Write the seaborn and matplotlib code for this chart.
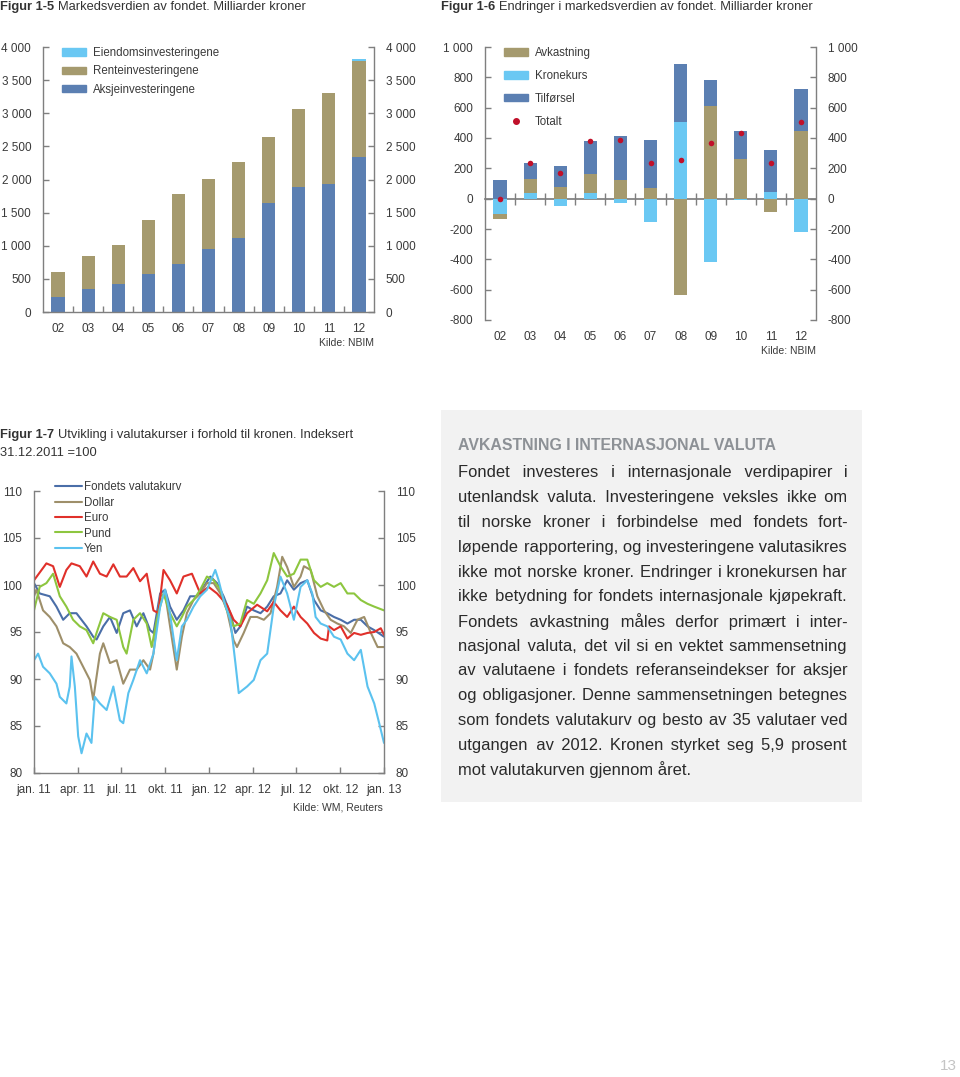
import numpy as np
import pandas as pd
import matplotlib
matplotlib.use('Agg')
import matplotlib.pyplot as plt
import seaborn as sns
from matplotlib import font_manager as fm
from matplotlib.patches import Patch, Rectangle
from matplotlib.lines import Line2D

# ---- Figur 1-5: markedsverdi (mrd kr)
years = ['02', '03', '04', '05', '06', '07', '08', '09', '10', '11', '12']
aksje = [226, 351, 417, 577, 718, 954, 1119, 1641, 1887, 1937, 2334]
rente = [376, 487, 592, 818, 1064, 1059, 1149, 994, 1184, 1370, 1455]
eiendom = [0, 0, 0, 0, 0, 0, 0, 0, 0, 0, 25]

# ---- Figur 1-6: endringer i markedsverdi (mrd kr)
avkastning = [-31, 90, 79, 125, 121, 73, -633, 609, 262, -88, 446]
kronekurs = [-101, 40, -48, 35, -29, -156, 503, -418, -7, 46, -220]
tilforsel = [123, 105, 139, 220, 290, 314, 385, 171, 182, 273, 275]
totalt = [-4, 237, 171, 382, 385, 237, 257, 365, 435, 235, 503]

# ---- Figur 1-7: valutakurser, maaneder etter 1.1.2011, indeks
kurv_m = [0, 0.39, 1.08, 1.54, 2.0, 2.45, 2.91, 3.6, 4.06, 4.29, 4.75, 5.21, 5.67, 6.12, 6.58, 7.04,
          7.5, 7.96, 8.19, 8.65, 8.99, 9.33, 9.79, 10.25, 10.71, 11.17, 11.63, 12.09, 12.55, 13.0,
          13.46, 13.81, 14.15, 14.61, 15.07, 15.53, 15.99, 16.44, 16.9, 17.36, 17.82, 18.28, 18.74,
          19.2, 19.66, 20.11, 20.57, 21.03, 21.49, 21.95, 22.41, 22.87, 23.33, 24.0]
kurv_v = [100.2, 99.1, 98.8, 97.7, 96.3, 97.0, 97.0, 95.6, 94.5, 94.2, 95.6, 96.6, 94.9, 97.0, 97.3,
          95.6, 97.0, 95.2, 94.9, 99.1, 99.5, 97.7, 96.3, 97.3, 98.8, 98.8, 99.8, 100.9, 100.2, 98.8,
          97.0, 94.9, 95.6, 97.7, 97.3, 97.0, 97.7, 98.8, 99.1, 100.5, 99.5, 100.2, 100.5, 98.4, 97.3,
          97.0, 96.6, 96.3, 95.9, 96.3, 96.3, 95.6, 95.2, 94.5]

dollar_m = [0, 0.16, 0.62, 1.08, 1.54, 2.0, 2.45, 2.91, 3.37, 3.83, 4.06, 4.52, 4.75, 5.21, 5.67,
            6.12, 6.58, 7.04, 7.5, 7.96, 8.19, 8.65, 8.99, 9.33, 9.79, 10.14, 10.48, 10.94, 11.4,
            11.86, 12.32, 12.78, 13.23, 13.69, 13.92, 14.38, 14.84, 15.3, 15.76, 16.22, 16.67,
            17.02, 17.36, 17.82, 18.28, 18.51, 18.97, 19.43, 19.89, 20.34, 20.8, 21.26, 21.72,
            22.18, 22.64, 23.1, 23.56, 24.0]
dollar_v = [98.8, 99.5, 97.3, 96.6, 95.6, 93.8, 93.4, 92.7, 91.3, 89.9, 87.8, 92.7, 93.8, 91.7, 92.0,
            89.5, 91.0, 91.0, 92.0, 91.0, 92.7, 98.8, 99.1, 95.6, 91.0, 94.5, 97.0, 98.4, 99.1, 100.2,
            100.2, 99.1, 97.3, 94.1, 93.4, 94.9, 96.6, 96.6, 96.3, 97.0, 99.8, 103.0, 101.9, 99.8,
            100.9, 102.0, 101.6, 98.8, 97.3, 96.3, 95.9, 95.6, 94.9, 96.3, 96.6, 94.9, 93.4, 93.4]

euro_m = [0, 0.85, 1.31, 1.77, 2.22, 2.57, 3.14, 3.6, 4.06, 4.52, 4.98, 5.44, 5.89, 6.35, 6.81, 7.27,
          7.73, 8.19, 8.53, 8.88, 9.33, 9.79, 10.25, 10.83, 11.4, 11.97, 12.55, 13.23, 13.69, 14.15,
          14.61, 15.3, 15.99, 16.44, 16.9, 17.36, 17.82, 18.28, 18.74, 19.2, 19.66, 20.11, 20.23,
          20.57, 21.03, 21.49, 21.95, 22.41, 22.87, 23.33, 23.78, 24.0]
euro_v = [100.5, 102.3, 102.0, 99.8, 101.6, 102.3, 102.0, 100.9, 102.5, 101.2, 100.9, 102.2, 100.9,
          100.9, 101.8, 100.4, 101.2, 97.3, 97.0, 101.6, 100.5, 99.1, 100.9, 101.2, 99.1, 99.8, 99.1,
          97.9, 96.3, 95.6, 97.0, 97.9, 97.2, 98.2, 97.3, 96.6, 97.7, 96.6, 95.9, 94.9, 94.3, 94.1,
          95.6, 95.2, 95.6, 94.3, 94.9, 94.7, 94.9, 95.0, 95.4, 94.7]

pund_m = [0, 0.39, 0.85, 1.31, 1.77, 2.22, 2.68, 3.14, 3.6, 4.06, 4.29, 4.75, 5.21, 5.67, 6.12, 6.35,
          6.81, 7.27, 7.73, 8.07, 8.42, 8.88, 9.33, 9.79, 10.14, 10.48, 10.94, 11.4, 11.86, 12.32,
          12.78, 13.23, 13.69, 14.15, 14.61, 15.07, 15.53, 15.99, 16.44, 16.9, 17.36, 17.82, 18.28,
          18.74, 19.2, 19.66, 20.11, 20.57, 21.03, 21.49, 21.95, 22.41, 22.87, 23.33, 24.0]
pund_v = [97.3, 99.8, 100.2, 101.2, 98.8, 97.7, 96.3, 95.6, 95.2, 93.8, 94.9, 97.0, 96.6, 96.3, 93.4,
          92.7, 96.3, 97.0, 95.9, 93.4, 96.3, 99.1, 97.0, 95.6, 96.6, 97.7, 98.4, 99.5, 100.9, 100.5,
          99.5, 97.3, 95.6, 95.9, 98.4, 98.0, 99.1, 100.5, 103.4, 102.0, 100.9, 101.2, 102.7, 102.7,
          100.5, 99.8, 100.2, 99.8, 100.2, 99.1, 99.1, 98.4, 98.0, 97.7, 97.3]

yen_m = [0, 0.28, 0.62, 1.08, 1.54, 1.77, 2.22, 2.45, 2.57, 2.8, 3.03, 3.26, 3.6, 3.94, 4.17, 4.52,
         4.98, 5.44, 5.89, 6.12, 6.47, 6.81, 7.27, 7.73, 8.19, 8.65, 8.99, 9.33, 9.79, 10.14, 10.48,
         10.94, 11.4, 11.86, 12.43, 12.66, 13.0, 13.46, 13.81, 14.04, 14.61, 15.07, 15.53, 15.99,
         16.44, 16.9, 17.36, 17.82, 18.28, 18.74, 19.08, 19.31, 19.66, 20.11, 20.57, 21.03, 21.49,
         21.95, 22.41, 22.87, 23.33, 23.67, 24.0]
yen_v = [92.0, 92.7, 91.3, 90.6, 89.5, 88.1, 87.4, 89.2, 92.4, 89.2, 83.9, 82.1, 84.2, 83.2, 88.1,
         87.4, 86.7, 89.2, 85.6, 85.3, 88.5, 89.9, 92.0, 90.6, 92.7, 97.7, 99.5, 96.9, 92.0, 95.6,
         96.3, 97.7, 98.8, 99.5, 101.6, 100.5, 98.4, 96.3, 91.7, 88.5, 89.2, 89.9, 92.0, 92.7, 97.7,
         100.9, 99.1, 96.3, 99.8, 100.5, 99.1, 96.6, 95.9, 95.6, 94.5, 94.2, 92.7, 92.0, 93.1, 89.2,
         87.4, 85.3, 83.2]

month_ticks = [0, 3, 6, 9, 12, 15, 18, 21, 24]
month_labels = ['jan. 11', 'apr. 11', 'jul. 11', 'okt. 11', 'jan. 12', 'apr. 12', 'jul. 12',
                'okt. 12', 'jan. 13']

boks_tittel = 'AVKASTNING I INTERNASJONAL VALUTA'
boks_linjer = [
    'Fondet investeres i internasjonale verdipapirer i',
    'utenlandsk valuta. Investeringene veksles ikke om',
    'til norske kroner i forbindelse med fondets fort-',
    'løpende rapportering, og investeringene valutasikres',
    'ikke mot norske kroner. Endringer i kronekursen har',
    'ikke betydning for fondets internasjonale kjøpekraft.',
    'Fondets avkastning måles derfor primært i inter-',
    'nasjonal valuta, det vil si en vektet sammensetning',
    'av valutaene i fondets referanseindekser for aksjer',
    'og obligasjoner. Denne sammensetningen betegnes',
    'som fondets valutakurv og besto av 35 valutaer ved',
    'utgangen av 2012. Kronen styrket seg 5,9 prosent',
    'mot valutakurven gjennom året.',
]

# farger
BLA = '#5b7fb2'
KHAKI = '#a59a6e'
LYSBLA = '#6ac8f3'
ROD = '#c0102a'
GRA = '#7f7f7f'
TXT = '#3a3a3a'

sns.set_theme(style='white')
names = {f.name for f in fm.fontManager.ttflist}
base_font = 'Liberation Sans' if 'Liberation Sans' in names else 'DejaVu Sans'
narrow_font = 'Liberation Sans Narrow' if 'Liberation Sans Narrow' in names else base_font
plt.rcParams['font.family'] = [base_font, 'DejaVu Sans']
plt.rcParams['text.color'] = TXT
plt.rcParams['axes.edgecolor'] = GRA
plt.rcParams['xtick.color'] = GRA
plt.rcParams['ytick.color'] = GRA
plt.rcParams['xtick.labelcolor'] = TXT
plt.rcParams['ytick.labelcolor'] = TXT

W, H = 960, 1077
fig = plt.figure(figsize=(W / 100, H / 100), dpi=100)
fx = lambda px: px / W
fy = lambda py: 1 - py / H


def thousands(v, pos=None):
    return f'{v:,.0f}'.replace(',', ' ')


def style_axes(ax, lab=8.5):
    for s in ['left', 'right', 'bottom']:
        ax.spines[s].set_color(GRA)
        ax.spines[s].set_linewidth(1.0)
    ax.spines['top'].set_visible(False)
    ax.tick_params(axis='y', which='both', direction='in', left=True, right=True,
                   labelleft=True, labelright=True, length=4, width=1, pad=8.5, labelsize=lab)
    ax.tick_params(axis='x', labelsize=lab)


def stack(ax, x, series, colors, width):
    pos = np.zeros(len(x))
    neg = np.zeros(len(x))
    for vals, c in zip(series, colors):
        vals = np.asarray(vals, float)
        base = np.where(vals >= 0, pos, neg)
        ax.bar(x, vals, bottom=base, width=width, color=c, linewidth=0)
        pos += np.clip(vals, 0, None)
        neg += np.clip(vals, None, 0)


def title(x, y, fig_no, rest):
    t = fig.text(fx(x), fy(y), fig_no + ' ', fontsize=9.3, va='center', ha='left',
                 fontweight='semibold', color='#333333', family=[narrow_font, 'DejaVu Sans'])
    plt.annotate(rest, xy=(1, 0), xycoords=t, va='bottom', ha='left', fontsize=9.3,
                 color='#333333', family=[narrow_font, 'DejaVu Sans'],
                 annotation_clip=False)


xpos = np.arange(len(years))

# ---------------- Figur 1-5
ax1 = fig.add_axes([fx(43), fy(312), fx(331), 265 / H])
stack(ax1, xpos, [aksje, rente, eiendom], [BLA, KHAKI, LYSBLA], 0.44)
ax1.set_xlim(-0.5, 10.5)
ax1.set_ylim(0, 4000)
ax1.set_yticks(range(0, 4001, 500))
ax1.yaxis.set_major_formatter(thousands)
ax1.set_xticks(xpos)
ax1.set_xticklabels(years)
ax1.set_xticks(xpos[:-1] + 0.5, minor=True)
style_axes(ax1)
ax1.tick_params(axis='x', which='major', length=0, pad=8)
ax1.tick_params(axis='x', which='minor', direction='in', length=4, width=1, bottom=True)
ax1.legend(handles=[Patch(color=LYSBLA, label='Eiendomsinvesteringene'),
                    Patch(color=KHAKI, label='Renteinvesteringene'),
                    Patch(color=BLA, label='Aksjeinvesteringene')],
           loc='upper left', bbox_to_anchor=(0.057, 1.0), frameon=False, fontsize=8.3,
           handlelength=2.1, handleheight=0.6, labelspacing=0.55, handletextpad=0.6,
           borderaxespad=0, borderpad=0)
fig.text(fx(374), fy(343), 'Kilde: NBIM', fontsize=7.5, ha='right', va='center')
title(0, 7, 'Figur 1-5', 'Markedsverdien av fondet. Milliarder kroner')

# ---------------- Figur 1-6
ax2 = fig.add_axes([fx(485), fy(320), fx(331), 273 / H])
stack(ax2, xpos, [kronekurs, avkastning, tilforsel], [LYSBLA, KHAKI, BLA], 0.44)
sns.scatterplot(x=xpos, y=totalt, ax=ax2, color=ROD, s=16, linewidth=0, zorder=5)
ax2.set_xlim(-0.5, 10.5)
ax2.set_ylim(-800, 1000)
ax2.set_yticks(range(-800, 1001, 200))
ax2.yaxis.set_major_formatter(thousands)
ax2.set_xticks(xpos)
ax2.set_xticklabels(years)
style_axes(ax2)
ax2.spines['bottom'].set_visible(False)
ax2.tick_params(axis='x', which='major', length=0, pad=8)
zero = ax2.secondary_xaxis(800 / 1800)
zero.spines['bottom'].set_color(GRA)
zero.set_xticks(xpos[:-1] + 0.5)
zero.tick_params(direction='inout', length=8, width=1, color=GRA, labelbottom=False)
ax2.legend(handles=[Patch(color=KHAKI, label='Avkastning'),
                    Patch(color=LYSBLA, label='Kronekurs'),
                    Patch(color=BLA, label='Tilførsel'),
                    Line2D([], [], color=ROD, marker='o', linestyle='', markersize=4,
                           label='Totalt')],
           loc='upper left', bbox_to_anchor=(0.057, 1.0), frameon=False, fontsize=8.3,
           handlelength=2.1, handleheight=0.6, labelspacing=0.95, handletextpad=0.6,
           borderaxespad=0, borderpad=0)
fig.text(fx(816), fy(351), 'Kilde: NBIM', fontsize=7.5, ha='right', va='center')
title(441, 7, 'Figur 1-6', 'Endringer i markedsverdien av fondet. Milliarder kroner')

# ---------------- Figur 1-7
serier = {
    'Fondets valutakurv': (kurv_m, kurv_v, '#4a6ea8'),
    'Dollar': (dollar_m, dollar_v, '#9e8f6a'),
    'Euro': (euro_m, euro_v, '#e0302a'),
    'Pund': (pund_m, pund_v, '#8dc63f'),
    'Yen': (yen_m, yen_v, '#5bc2ef'),
}
df = pd.concat([pd.DataFrame({'mnd': m, 'indeks': v, 'serie': k})
                for k, (m, v, c) in serier.items()], ignore_index=True)
pal = {k: c for k, (m, v, c) in serier.items()}

ax3 = fig.add_axes([fx(34), fy(773), fx(350), 282 / H])
sns.lineplot(data=df, x='mnd', y='indeks', hue='serie', palette=pal, ax=ax3,
             estimator=None, linewidth=1.5, legend=False)
ax3.set_xlim(0, 24)
ax3.set_ylim(80, 110)
ax3.set_yticks(range(80, 111, 5))
ax3.set_xticks(month_ticks)
ax3.set_xticklabels(month_labels)
ax3.set_xlabel('')
ax3.set_ylabel('')
style_axes(ax3)
ax3.tick_params(axis='x', direction='in', length=4, width=1, bottom=True, pad=8)
ax3.legend(handles=[Line2D([], [], color=c, lw=1.5, label=k) for k, (m, v, c) in serier.items()],
           loc='upper left', bbox_to_anchor=(0.06, 1.035), frameon=False, fontsize=8.3,
           handlelength=2.3, labelspacing=0.3, handletextpad=0.2,
           borderaxespad=0, borderpad=0)
fig.text(fx(383), fy(807), 'Kilde: WM, Reuters', fontsize=7.5, ha='right', va='center')
title(0, 435, 'Figur 1-7', 'Utvikling i valutakurser i forhold til kronen. Indeksert')
fig.text(0, fy(453), '31.12.2011 =100', fontsize=9.3, va='center', color='#333333',
         family=[narrow_font, 'DejaVu Sans'])

# ---------------- tekstboks
fig.patches.append(Rectangle((fx(441), fy(802)), fx(421), 392 / H, transform=fig.transFigure,
                             facecolor='#f2f2f2', edgecolor='none', zorder=0))

renderer = fig.canvas.get_renderer()
head = fig.text(fx(458), fy(446), boks_tittel, fontsize=15, fontweight='bold', color='#8d9196',
                va='center', ha='left', family=[narrow_font, 'DejaVu Sans'])
hw = head.get_window_extent(renderer).width
head.set_fontsize(15 * 318 / hw)


def width_of(s, size):
    t = fig.text(0, 0, s, fontsize=size)
    w = t.get_window_extent(renderer).width
    t.remove()
    return w


x0, x1 = 458, 847
s0 = 10
size = s0 * (x1 - x0) / max(width_of(l, s0) for l in boks_linjer) * 0.995
HAIR = '\u200a'
hair_w = (width_of('x' + HAIR * 40 + 'x', size) - width_of('xx', size)) / 40

for i, line in enumerate(boks_linjer):
    y = fy(473 + i * 24.75)
    words = line.split()
    if i < len(boks_linjer) - 1 and hair_w > 0:
        extra = (x1 - x0) - width_of(line, size)
        n_hair = max(int(round(extra / hair_w)), 0)
        gaps = len(words) - 1
        per, rest = divmod(n_hair, gaps)
        line = words[0]
        for k, w in enumerate(words[1:]):
            line += ' ' + HAIR * (per + (1 if k < rest else 0)) + w
    fig.text(fx(x0), y, line, fontsize=size, va='center', ha='left', color='#2a2a2a')

fig.text(fx(957), fy(1066), '13', fontsize=11, color='#c4c4c4', ha='right', va='center')

fig.savefig('out.png', dpi=100)
